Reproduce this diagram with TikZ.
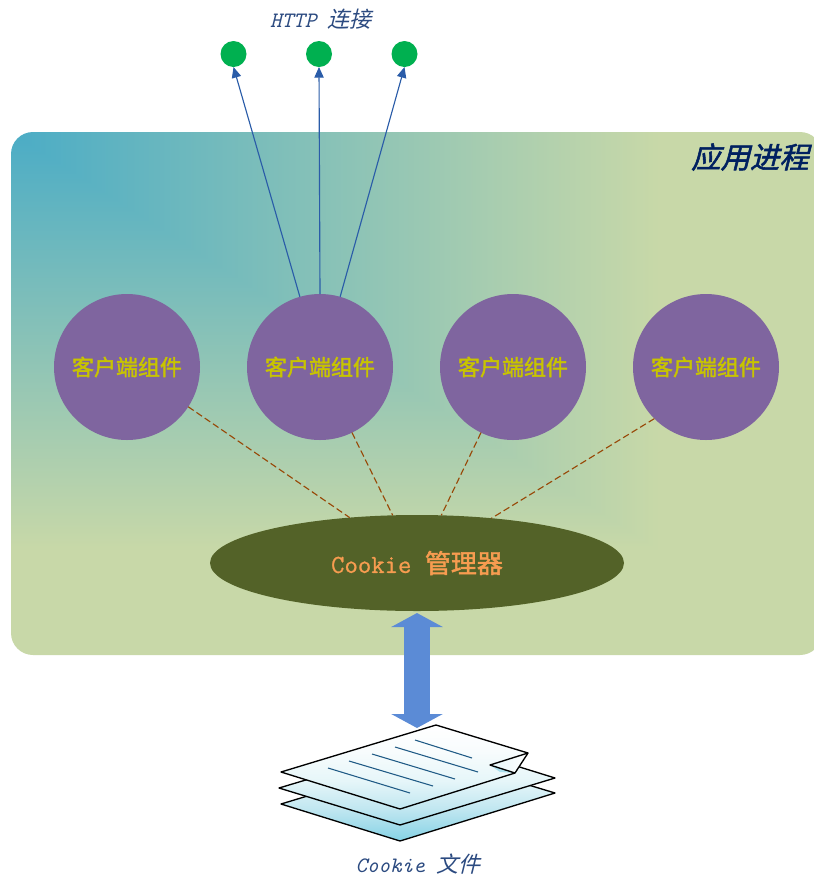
\documentclass[tikz,border=0pt]{standalone}
\usepackage{fontspec}
\usetikzlibrary{shapes.geometric,arrows.meta}
\newfontfamily\cjk{Noto Sans CJK SC}
\newfontfamily\cjkbold[FakeBold=1.8]{Noto Sans CJK SC}
\newfontfamily\cjkit[FakeSlant=0.25]{Noto Sans CJK SC}
\newfontfamily\cjkitbold[FakeSlant=0.25,FakeBold=1.8]{Noto Sans CJK SC}
\newfontfamily\monobold[FakeBold=0.8]{Latin Modern Mono}
\definecolor{clientfill}{HTML}{7F659F}
\definecolor{clienttext}{HTML}{C8C400}
\definecolor{mgrfill}{HTML}{536228}
\definecolor{mgrtext}{HTML}{F79C50}
\definecolor{dotfill}{HTML}{00B050}
\definecolor{linkblue}{HTML}{2A5CA8}
\definecolor{dashbrown}{HTML}{984807}
\definecolor{bigarrow}{HTML}{5B8BD6}
\definecolor{captiontext}{HTML}{2B4A80}
\definecolor{titletext}{HTML}{002060}
\definecolor{docline}{HTML}{1F5A85}
\definecolor{docA}{HTML}{85D2E5}
\definecolor{docB}{HTML}{BFE6F0}
\definecolor{docC}{HTML}{E6F6F9}
\definecolor{docD}{HTML}{F8FCFD}
\pgfdeclarefunctionalshading{procshade}{\pgfpointorigin}{\pgfpoint{100bp}{100bp}}{}{
  25 sub 50 div 1 exch sub exch 25 sub 50 div
  2 copy lt {exch} if pop
  0.8 div dup 1 gt {pop 1} if
  dup 0.49 mul 0.294 add exch
  dup 0.173 mul 0.675 add exch
  0.118 mul neg 0.776 add
}
\pgfdeclareverticalshading{docshade}{100bp}{color(0bp)=(docA); color(25bp)=(docA); color(38.4bp)=(docB); color(51bp)=(docC); color(64bp)=(docD); color(75bp)=(white); color(100bp)=(white)}
\tikzset{
  client/.style={circle,fill=clientfill,minimum size=109.5pt,inner sep=0pt,outer sep=0pt,
    text=clienttext,font=\cjkbold\fontsize{16.5pt}{18pt}\selectfont},
  dotnode/.style={circle,fill=dotfill,minimum size=19.5pt,inner sep=0pt,outer sep=0pt},
  link/.style={draw=linkblue,line width=0.85pt,-{Triangle[length=8pt,width=7pt]}},
  dashlink/.style={draw=dashbrown,line width=0.85pt,dash pattern=on 5pt off 2.5pt},
  caption/.style={text=captiontext,inner sep=0pt,font=\fontsize{16.5pt}{18pt}\selectfont},
  sheet/.style={draw=black,line width=1pt,line join=round},
  docrule/.style={draw=docline,line width=0.8pt},
}
\newcommand{\sheetshade}{\path[shading=docshade] (270,725) rectangle (560,841);}
\begin{document}
\begin{tikzpicture}[x=0.75pt,y=-0.75pt]
\clip (0,0) rectangle (814,876);
% process background
\path[shading=procshade,rounded corners=16.5pt] (11,132) rectangle (822,655);
\node[text=titletext,inner sep=0pt,font=\cjkitbold\fontsize{22pt}{24pt}\selectfont] (proctitle) at (750,157) {应用进程};
% top dots
\node[caption] (httplabel) at (321,19) {\ttfamily\itshape HTTP {\cjkit 连接}};
\node[dotnode] (d1) at (233.5,54) {};
\node[dotnode] (d2) at (319,54) {};
\node[dotnode] (d3) at (404.5,54) {};
% clients
\node[client] (c1) at (127,367) {客户端组件};
\node[client] (c2) at (320,367) {客户端组件};
\node[client] (c3) at (513,367) {客户端组件};
\node[client] (c4) at (706,367) {客户端组件};
% manager
\node[ellipse,fill=mgrfill,minimum width=310.5pt,minimum height=72pt,inner sep=0pt,outer sep=0pt,
  text=mgrtext,font=\fontsize{19.5pt}{21pt}\selectfont] (mgr) at (417,563) {\raisebox{1.5pt}{\monobold Cookie {\cjkbold 管理器}}};
% connectors
\draw[link] (c2.106) -- (d1.south);
\draw[link] (c2.90) -- (d2.south);
\draw[link] (c2.74) -- (d3.south);
\draw[dashlink] (c1.-33.7) -- (mgr.146.5);
\draw[dashlink] (c2.-64) -- (mgr.117.1);
\draw[dashlink] (c3.-116) -- (mgr.63.9);
\draw[dashlink] (c4.-135) -- (mgr.31.7);
% big double arrow
\coordinate (arrtop) at (417,613);
\coordinate (arrbot) at (417,728);
\draw[bigarrow,line width=19.5pt,{Triangle[length=10.5pt,width=38.25pt]}-{Triangle[length=10.5pt,width=38.25pt]}] (arrtop) -- (arrbot);
% document stack
\begin{scope}
  \clip (281,804) -- (436,757) -- (555,793) -- (400,841) -- cycle;
  \sheetshade
\end{scope}
\draw[sheet] (281,804) -- (436,757) -- (555,793) -- (400,841) -- cycle;
\begin{scope}
  \clip (279,788) -- (436,741) -- (555,778) -- (400,825) -- cycle;
  \sheetshade
\end{scope}
\draw[sheet] (279,788) -- (436,741) -- (555,778) -- (400,825) -- cycle;
\begin{scope}
  \clip (281,772) -- (436,725) -- (528,753) -- (515,773) -- (400,809) -- cycle;
  \sheetshade
\end{scope}
\fill[docA!70] (490,765) -- (515,773) -- (500,772) -- cycle;
\shade[left color=docC,right color=white] (528,753) -- (490,765) -- (515,773) -- cycle;
\draw[sheet] (281,772) -- (436,725) -- (528,753) -- (515,773) -- (400,809) -- cycle;
\draw[sheet] (528,753) -- (490,765) -- (515,773);
\draw[docrule] (415,740) -- (472,758);
\draw[docrule] (395,747) -- (478,772);
\draw[docrule] (372,754) -- (455,779);
\draw[docrule] (349,761) -- (433,786);
\draw[docrule] (328,768) -- (410,793);
\node[caption] (doclabel) at (418,864) {\ttfamily\itshape Cookie {\cjkit 文件}};
\end{tikzpicture}
\end{document}
